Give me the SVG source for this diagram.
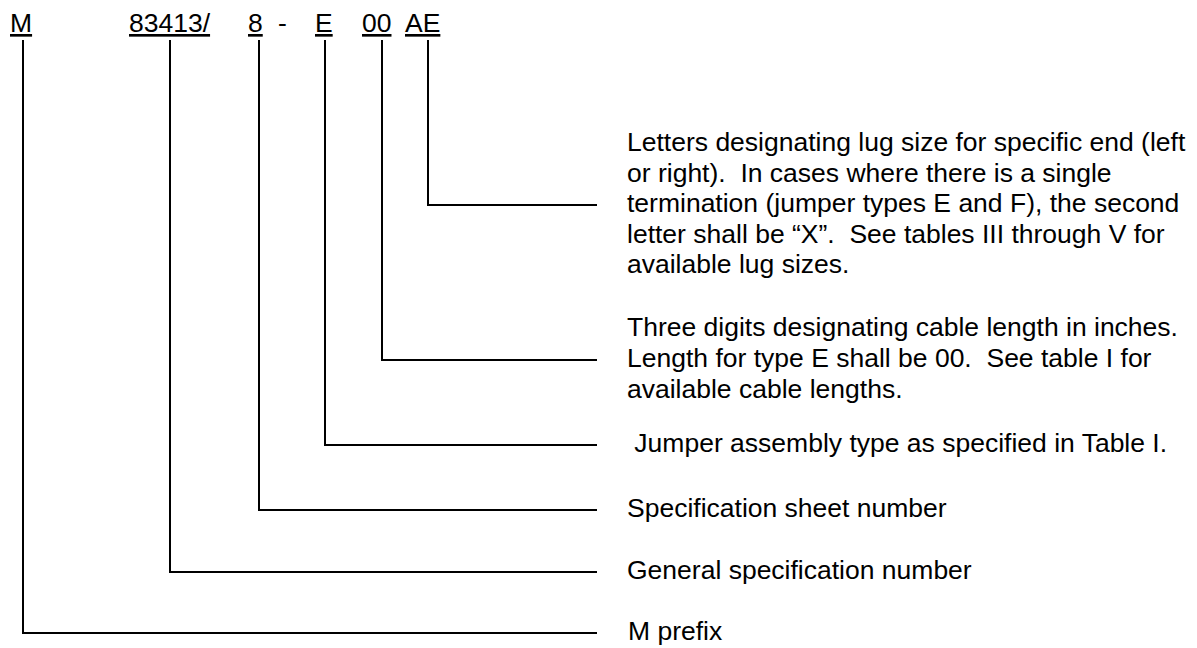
<svg xmlns="http://www.w3.org/2000/svg" width="1197" height="648" viewBox="0 0 1197 648">
<style>
text{font-family:"Liberation Sans",Arial,sans-serif;font-size:26.5px;fill:#000;white-space:pre}
.u{text-decoration:underline}
.c{fill:none;stroke:#000;stroke-width:2}
</style>
<rect width="1197" height="648" fill="#fff"/>
<g id="code">
<text class="u" x="10" y="32">M</text>
<text class="u" x="129" y="32">83413/</text>
<text class="u" x="248" y="32">8</text>
<text x="278" y="32">-</text>
<text class="u" x="315" y="32">E</text>
<text class="u" x="362" y="32">00</text>
<text class="u" x="405" y="32">AE</text>
</g>
<g id="connectors">
<path class="c" d="M428 40V205H597"/>
<path class="c" d="M382 40V360H597"/>
<path class="c" d="M325 40V445H597"/>
<path class="c" d="M259 40V510H597"/>
<path class="c" d="M170 40V572H597"/>
<path class="c" d="M23 40V633H597"/>
</g>
<g id="lug">
<text x="627" y="151">Letters designating lug size for specific end (left</text>
<text x="627" y="181.5">or right).  In cases where there is a single</text>
<text x="627" y="212">termination (jumper types E and F), the second</text>
<text x="627" y="242.5">letter shall be “X”.  See tables III through V for</text>
<text x="627" y="273">available lug sizes.</text>
</g>
<g id="length">
<text x="627" y="336">Three digits designating cable length in inches.</text>
<text x="627" y="367">Length for type E shall be 00.  See table I for</text>
<text x="627" y="398">available cable lengths.</text>
</g>
<g id="type"><text x="627" y="452"> Jumper assembly type as specified in Table I.</text></g>
<g id="sheet"><text x="627" y="517">Specification sheet number</text></g>
<g id="general"><text x="627" y="579">General specification number</text></g>
<g id="prefix"><text x="628" y="640">M prefix</text></g>
</svg>
